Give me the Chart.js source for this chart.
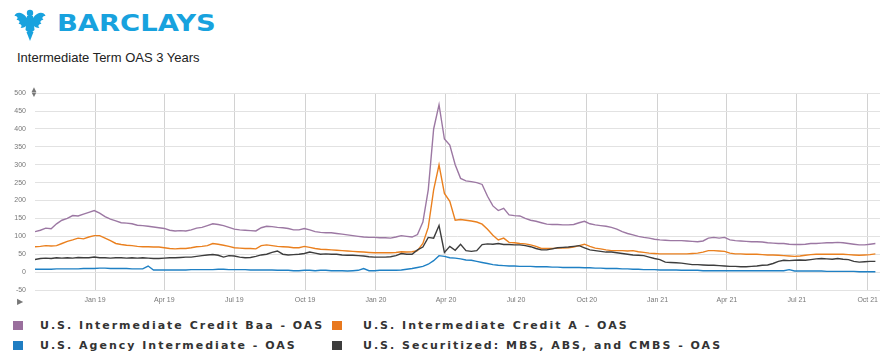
<!DOCTYPE html>
<html>
<head>
<meta charset="utf-8">
<script src="https://cdn.jsdelivr.net/npm/chart.js@4.4.0/dist/chart.umd.min.js"></script>
<style>
  body { margin: 0; background: #fff; width: 895px; height: 352px; overflow: hidden; position: relative; font-family: "Liberation Sans", Arial, sans-serif; }
  #logo { position: absolute; left: 14px; top: 8px; }
  #brand { position: absolute; left: 57px; top: 12px; font: bold 23px/23px "DejaVu Sans", sans-serif; color: #18a2de; transform: scaleX(1.19); transform-origin: left top; }
  #title { position: absolute; left: 17px; top: 51px; font-size: 13px; line-height: 13px; color: #222; }
  #chart { position: absolute; left: 0; top: 80px; }
  .icon { position: absolute; color: #777; font-size: 8px; line-height: 8px; }
  .legend { position: absolute; font: bold 11px/12px "DejaVu Sans", sans-serif; letter-spacing: 2px; color: #333; white-space: nowrap; }
  .sw { position: absolute; width: 10px; height: 9px; }
</style>
</head>
<body>
<svg id="logo" width="32" height="34" viewBox="0 0 32 34">
  <g fill="#18a2de">
    <circle cx="16" cy="5" r="3.2"/>
    <path d="M13 8 Q16 7 19 8 L20.5 22 Q16 27 11.5 22 Z"/>
    <path d="M13 10 C8 3 2 4 0.5 8 C3.5 8 4.5 10 2.5 12 C5.5 12 6.5 14 4.5 16 C7.5 16 8.5 18 6.5 20 C9.5 20 11.5 19 13 17 Z"/>
    <path d="M19 10 C24 3 30 4 31.5 8 C28.5 8 27.5 10 29.5 12 C26.5 12 25.5 14 27.5 16 C24.5 16 23.5 18 25.5 20 C22.5 20 20.5 19 19 17 Z"/>
    <path d="M12.5 24 L16 33 L19.5 24 Z"/>
  </g>
</svg>
<div id="brand">BARCLAYS</div>
<div id="title">Intermediate Term OAS 3 Years</div>
<canvas id="chart" width="895" height="230"></canvas>
<div class="icon" style="left:30px;top:86px;">&#9650;</div>
<div class="icon" style="left:30px;top:91px;">&#9660;</div>
<div class="icon" style="left:17px;top:298px;">&#9654;</div>

<div class="sw" style="left:13px;top:321px;background:#9a6f9d;"></div>
<div class="legend" style="left:40px;top:320px;">U.S. Intermediate Credit Baa - OAS</div>
<div class="sw" style="left:332px;top:321px;background:#e8781e;"></div>
<div class="legend" style="left:363px;top:320px;">U.S. Intermediate Credit A - OAS</div>
<div class="sw" style="left:13px;top:341px;background:#1f7dc2;"></div>
<div class="legend" style="left:40px;top:340px;">U.S. Agency Intermediate - OAS</div>
<div class="sw" style="left:332px;top:341px;background:#3d3d3d;"></div>
<div class="legend" style="left:363px;top:340px;">U.S. Securitized: MBS, ABS, and CMBS - OAS</div>

<script>
// weekly observations starting Mon 15 Oct 2018 (x = days since start)
const startDate = "2018-10-15";

// quarter ticks, days since startDate
const tickDays = [78, 168, 259, 351, 443, 534, 625, 717, 809, 899, 990, 1082];
const tickLabels = ["Jan 19", "Apr 19", "Jul 19", "Oct 19", "Jan 20", "Apr 20", "Jul 20", "Oct 20", "Jan 21", "Apr 21", "Jul 21", "Oct 21"];

const baa = [
  113,117,123,121,135,145,150,158,157,162,
  167,172,165,155,148,143,138,137,135,131,
  130,128,126,124,122,117,115,116,115,118,
  123,125,130,135,133,130,125,120,118,117,
  116,115,124,128,127,125,124,122,118,118,
  122,118,113,111,110,110,108,106,104,102,
  100,98,97,97,96,96,95,98,102,100,
  98,105,140,230,400,468,372,355,300,262,
  255,253,250,245,212,185,172,178,160,158,
  157,150,145,142,138,134,133,133,132,132,
  133,138,142,135,132,130,128,125,120,113,
  108,104,100,97,95,92,90,89,88,88,
  88,87,86,85,87,95,97,95,97,90,
  88,87,86,85,85,84,82,81,80,80,
  78,77,77,78,80,80,81,82,82,83,
  82,80,78,76,76,78,80
];

const creditA = [
  71,72,74,73,74,80,86,90,95,93,
  98,102,102,95,88,80,77,75,74,72,
  71,71,70,70,68,66,65,66,66,68,
  71,72,74,80,78,75,72,68,67,66,
  66,65,74,76,74,72,71,70,68,68,
  72,69,66,64,63,62,61,60,59,58,
  57,56,55,54,54,54,54,55,57,56,
  57,60,80,125,230,300,220,198,145,147,
  145,143,140,134,120,103,90,95,83,82,
  80,79,76,72,66,66,66,67,67,68,
  70,74,78,72,67,65,62,60,60,60,
  59,60,57,55,53,52,51,51,51,51,
  51,51,52,53,56,60,60,59,58,53,
  51,51,50,50,50,49,48,48,47,46,
  45,44,45,47,49,50,50,50,50,50,
  50,49,48,47,48,49,51
];

const agency = [
  8,8,8,8,9,9,9,9,9,10,
  10,10,11,11,10,10,10,10,9,9,
  9,17,6,6,6,6,6,6,6,7,
  7,7,7,7,8,8,7,7,7,7,
  6,6,6,6,6,5,5,5,4,4,
  5,5,4,5,5,4,4,4,3,4,
  5,10,4,4,5,5,5,5,6,8,
  10,13,16,22,32,46,44,40,39,37,
  34,33,30,27,24,21,19,18,17,17,
  16,16,16,15,15,15,14,14,13,13,
  13,13,12,12,11,11,10,10,10,9,
  9,8,8,7,7,7,6,6,6,6,
  5,5,5,5,4,4,4,4,4,4,
  4,4,4,4,4,4,4,4,4,4,
  7,3,3,3,3,3,3,2,2,2,
  2,2,2,1,1,1,1
];

const securitized = [
  35,38,39,38,40,39,40,39,41,40,
  40,42,40,40,39,40,40,39,40,39,
  40,39,38,38,39,40,40,41,42,42,
  44,46,48,49,47,42,46,45,42,40,
  41,44,48,50,55,59,50,48,49,50,
  52,56,53,50,51,50,50,48,47,47,
  46,45,43,42,42,42,43,46,52,50,
  50,62,70,97,95,130,55,72,61,78,
  60,58,60,77,79,78,80,77,77,76,
  76,74,71,66,62,62,65,68,69,70,
  72,74,68,62,60,58,56,56,54,52,
  50,48,47,46,42,38,35,28,27,26,
  25,23,21,21,20,19,19,18,17,16,
  16,15,15,16,17,19,20,24,30,33,
  32,33,34,33,35,37,38,37,36,38,
  36,35,30,28,29,30,30
];

function toPoints(values) {
  return values.map((v, i) => ({ x: i * 7, y: v }));
}

function series(label, values, color) {
  return {
    label: label,
    data: toPoints(values),
    borderColor: color,
    backgroundColor: color,
    borderWidth: 1.4,
    pointRadius: 0,
    tension: 0,
    fill: false
  };
}

const tickFont = { family: "'Liberation Sans', Arial, sans-serif", size: 7 };

new Chart(document.getElementById("chart").getContext("2d"), {
  type: "line",
  data: {
    datasets: [
      series("U.S. Agency Intermediate - OAS", agency, "#1f80c4"),
      series("U.S. Securitized: MBS, ABS, and CMBS - OAS", securitized, "#3d3d3d"),
      series("U.S. Intermediate Credit A - OAS", creditA, "#ea801f"),
      series("U.S. Intermediate Credit Baa - OAS", baa, "#9c78a3")
    ]
  },
  options: {
    responsive: false,
    animation: false,
    devicePixelRatio: 1,
    layout: { padding: { left: 0, right: 15, top: 10, bottom: 0 } },
    plugins: { legend: { display: false }, tooltip: { enabled: false } },
    scales: {
      x: {
        type: "linear",
        min: 0,
        max: 1098,
        afterFit: function (s) { s.height = 20; },
        afterBuildTicks: function (s) { s.ticks = tickDays.map(v => ({ value: v })); },
        ticks: {
          callback: function (v, i) { return tickLabels[i]; },
          autoSkip: false,
          maxRotation: 0,
          padding: 6,
          color: "#777",
          font: tickFont
        },
        grid: { color: "#d2d2d2", drawTicks: false },
        border: { display: false }
      },
      y: {
        min: -50,
        max: 500,
        afterFit: function (s) { s.width = 35; },
        ticks: { stepSize: 50, padding: 9, color: "#777", font: tickFont },
        grid: { color: "#e2e2e2", drawTicks: false },
        border: { display: false }
      }
    }
  }
});
</script>
</body>
</html>
